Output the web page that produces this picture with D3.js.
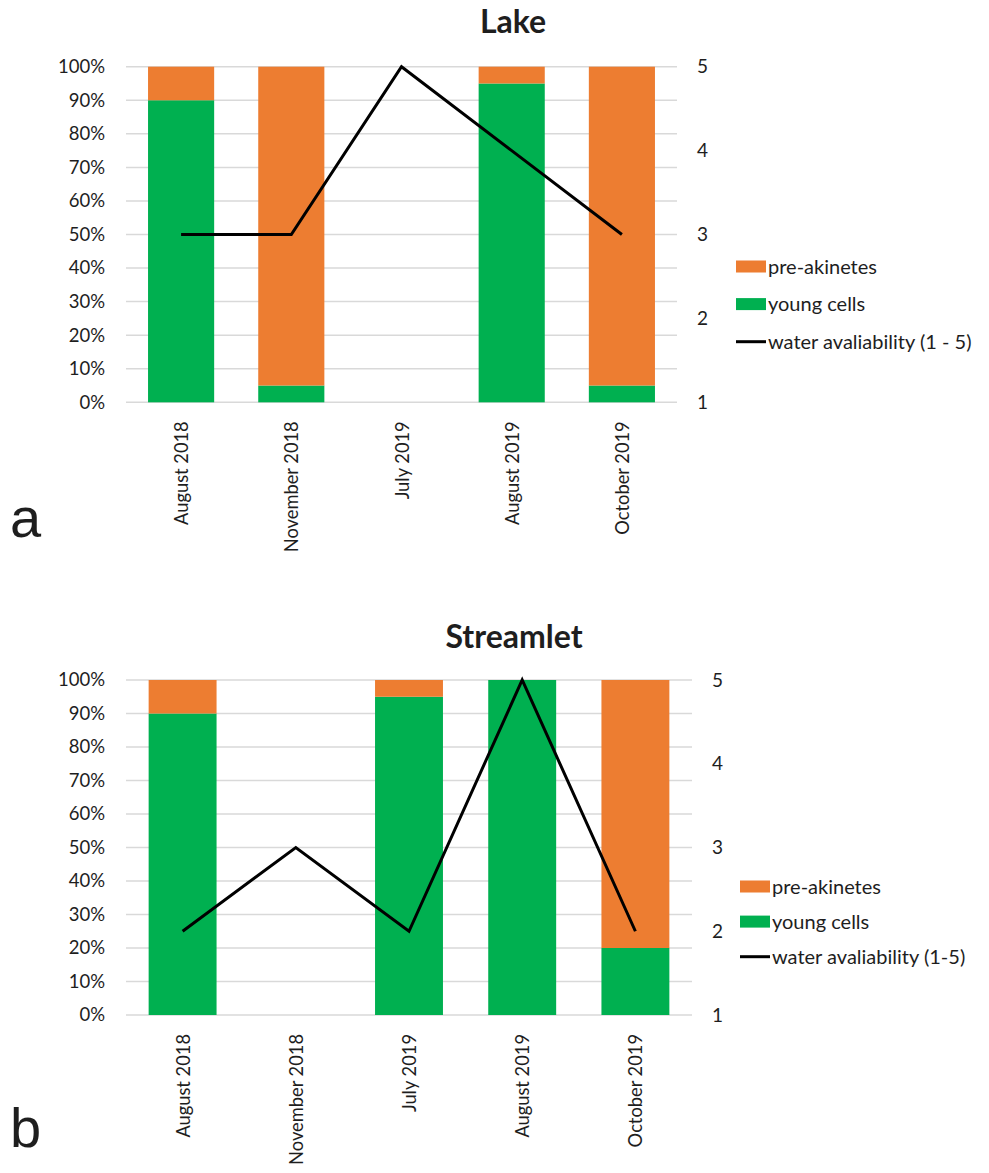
<!DOCTYPE html>
<html>
<head>
<meta charset="utf-8" />
<style>
  body { margin: 0; background: #fff; }
  text { font-family: Lato, "Open Sans", sans-serif; fill: #1e1e1e; }
</style>
</head>
<body>
<div id="chart"></div>
<script src="https://cdn.jsdelivr.net/npm/d3@7"></script>
<script>
// categories (sampling dates)
const months = ["August 2018", "November 2018", "July 2019", "August 2019", "October 2019"];

// Lake
const lakeYoung = [0.90, 0.05, 0, 0.95, 0.05];
const lakePre   = [0.10, 0.95, 0, 0.05, 0.95];
const lakeWater = [3, 3, 5, 4, 3];

// Streamlet
const streamYoung = [0.90, 0, 0.95, 1.00, 0.20];
const streamPre   = [0.10, 0, 0.05, 0, 0.80];
const streamWater = [2, 3, 2, 5, 2];

const pctTicks = [0, .1, .2, .3, .4, .5, .6, .7, .8, .9, 1];
const waterTicks = [1, 2, 3, 4, 5];

const orange = "#ED7D31", green = "#00B050";

const svg = d3.select("#chart").append("svg")
  .attr("width", 989).attr("height", 1173);
svg.append("rect").attr("width", 989).attr("height", 1173).attr("fill", "#fff");

function drawPanel(p) {
  const g = svg.append("g");
  const x = d3.scaleBand().domain(months).range([p.left, p.right]).paddingInner(0.4).paddingOuter(0.2);
  const y = d3.scaleLinear().domain([0, 1]).range([p.bottom, p.top]);
  const yw = d3.scaleLinear().domain([1, 5]).range([p.bottom, p.top]);

  // gridlines
  g.selectAll("line.grid").data(pctTicks).enter().append("line")
    .attr("x1", p.left).attr("x2", p.right)
    .attr("y1", d => y(d)).attr("y2", d => y(d))
    .attr("stroke", "#d9d9d9").attr("stroke-width", 1.5);

  // stacked bars
  const rows = months.map((m, i) => ({ m, young: p.young[i], pre: p.pre[i] }));
  g.selectAll("rect.young").data(rows.filter(d => d.young > 0)).enter().append("rect")
    .attr("x", d => x(d.m)).attr("width", x.bandwidth())
    .attr("y", d => y(d.young)).attr("height", d => y(0) - y(d.young))
    .attr("fill", green);
  g.selectAll("rect.pre").data(rows.filter(d => d.pre > 0)).enter().append("rect")
    .attr("x", d => x(d.m)).attr("width", x.bandwidth())
    .attr("y", d => y(d.young + d.pre)).attr("height", d => y(d.young) - y(d.young + d.pre))
    .attr("fill", orange);

  // water line
  const line = d3.line().x((d, i) => x(months[i]) + x.bandwidth() / 2).y(d => yw(d));
  g.append("path").datum(p.water).attr("d", line)
    .attr("fill", "none").attr("stroke", "#000").attr("stroke-width", 3);

  // left axis
  const la = g.append("g").attr("transform", `translate(${p.left},0)`)
    .call(d3.axisLeft(y).tickValues(pctTicks).tickFormat(d3.format(".0%")).tickSize(0).tickPadding(21));
  la.select(".domain").remove();
  la.selectAll("text").style("font-family", "Lato, sans-serif").style("font-size", "18.5px").attr("fill", "#1e1e1e");

  // right axis
  const ra = g.append("g").attr("transform", `translate(${p.right},0)`)
    .call(d3.axisRight(yw).tickValues(waterTicks).tickFormat(d3.format("d")).tickSize(0).tickPadding(20));
  ra.select(".domain").remove();
  ra.selectAll("text").style("font-family", "Lato, sans-serif").style("font-size", "19px").attr("fill", "#1e1e1e");

  // category labels
  g.selectAll("text.cat").data(months).enter().append("text")
    .attr("transform", d => `translate(${x(d) + x.bandwidth() / 2 + 7},${p.bottom + 19}) rotate(-90)`)
    .attr("text-anchor", "end").style("font-size", "18.3px").text(d => d);

  // title
  g.append("text").attr("x", p.titleX).attr("y", p.titleY).attr("text-anchor", "middle")
    .style("font-size", "32px").style("font-weight", "bold").attr("fill", "#000").text(p.title);

  // legend
  const leg = [
    { label: "pre-akinetes", type: "rect", color: orange },
    { label: "young cells", type: "rect", color: green },
    { label: p.waterLabel, type: "line", color: "#000" }
  ];
  const lg = g.selectAll("g.leg").data(leg).enter().append("g")
    .attr("transform", (d, i) => `translate(${p.legX},${p.legY + i * p.legStep})`);
  lg.filter(d => d.type === "rect").append("rect")
    .attr("x", 0).attr("y", -6).attr("width", 30).attr("height", 12).attr("fill", d => d.color);
  lg.filter(d => d.type === "line").append("line")
    .attr("x1", 0).attr("x2", 30).attr("y1", 0).attr("y2", 0)
    .attr("stroke", "#000").attr("stroke-width", 3);
  lg.append("text").attr("x", 32).attr("dy", "0.35em").style("font-size", "20px").text(d => d.label);

  // panel letter
  g.append("text").attr("x", p.letterX).attr("y", p.letterY)
    .style("font-family", "Liberation Sans, Arial, sans-serif").style("font-size", "56px")
    .attr("fill", "#000").text(p.letter);
}

drawPanel({
  title: "Lake", letter: "a", waterLabel: "water avaliability (1 - 5)",
  young: lakeYoung, pre: lakePre, water: lakeWater,
  left: 126, right: 677, top: 66.7, bottom: 402.3,
  titleX: 513, titleY: 33,
  legX: 736, legY: 266.5, legStep: 37.6,
  letterX: 10, letterY: 537
});

drawPanel({
  title: "Streamlet", letter: "b", waterLabel: "water avaliability (1-5)",
  young: streamYoung, pre: streamPre, water: streamWater,
  left: 126, right: 692, top: 680, bottom: 1015,
  titleX: 514, titleY: 648,
  legX: 740, legY: 886.5, legStep: 35.1,
  letterX: 10, letterY: 1147
});
</script>
</body>
</html>
